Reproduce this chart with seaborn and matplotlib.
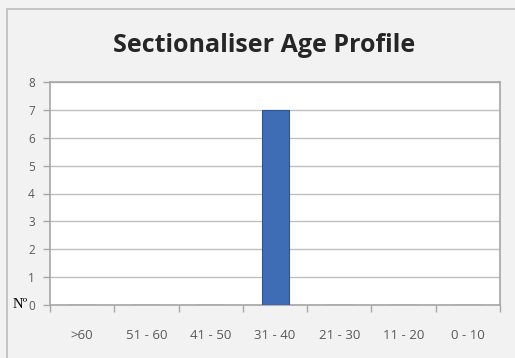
import matplotlib
matplotlib.use("Agg")
import matplotlib.pyplot as plt
import seaborn as sns
import numpy as np
import pandas as pd
from matplotlib.patches import Rectangle
from matplotlib.ticker import FixedLocator

age_bands = [">60", "51 - 60", "41 - 50", "31 - 40", "21 - 30", "11 - 20", "0 - 10"]
counts = [0, 0, 0, 7, 0, 0, 0]
y_ticks = [0, 1, 2, 3, 4, 5, 6, 7, 8]

sns.set_theme(style="white")
plt.rcParams["font.family"] = ["Open Sans", "DejaVu Sans"]

df = pd.DataFrame({"band": age_bands, "count": counts})

W, H = 515, 358
fig = plt.figure(figsize=(W / 100, H / 100), dpi=100)
fig.patch.set_facecolor("#f2f2f2")

# chart frame
fig.patches.append(Rectangle((7 / W, -0.1), 1.2, 1 - 9 / H + 0.1,
                             transform=fig.transFigure, fill=False,
                             edgecolor="#bdbdbd", linewidth=1.2))

ax = fig.add_axes([50 / W, 1 - 305 / H, 450 / W, 223 / H])
ax.set_facecolor("white")

sns.barplot(data=df, x="band", y="count", color="#3f6db5", width=0.42,
            saturation=1, edgecolor="#2c558f", linewidth=0.8, ax=ax, zorder=3)

ax.set_xlim(-0.5, len(age_bands) - 0.5)
ax.set_ylim(0, 8)
ax.set_yticks(y_ticks)
ax.yaxis.grid(True, color="#bfbfbf", linewidth=1.0, zorder=0)
ax.set_axisbelow(True)

for side in ["left", "right", "top", "bottom"]:
    ax.spines[side].set_visible(True)
    ax.spines[side].set_color("#a6a6a6")
    ax.spines[side].set_linewidth(1.2)

ax.xaxis.set_minor_locator(FixedLocator(np.arange(-0.5, len(age_bands), 1.0)))
ax.tick_params(axis="x", which="major", length=0, pad=17, labelsize=9.5, labelcolor="#595959")
ax.tick_params(axis="x", which="minor", length=5, width=1, color="#a6a6a6", direction="out")
ax.tick_params(axis="y", which="major", length=5, width=1, color="#a6a6a6",
               direction="out", left=True, pad=6, labelsize=8.5, labelcolor="#595959")
ax.tick_params(axis="x", which="both", bottom=True)

ax.set_xlabel("")
ax.set_ylabel("")

fig.text(264 / W, 1 - 45 / H, "Sectionaliser Age Profile", ha="center", va="center",
         fontsize=18, fontweight="bold", color="#262626")
fig.text(13 / W, 1 - 304 / H, "Nº", ha="left", va="center",
         fontsize=10.5, color="black", family=["Liberation Serif", "DejaVu Serif"])

fig.savefig("out.png", dpi=100, facecolor=fig.get_facecolor())
